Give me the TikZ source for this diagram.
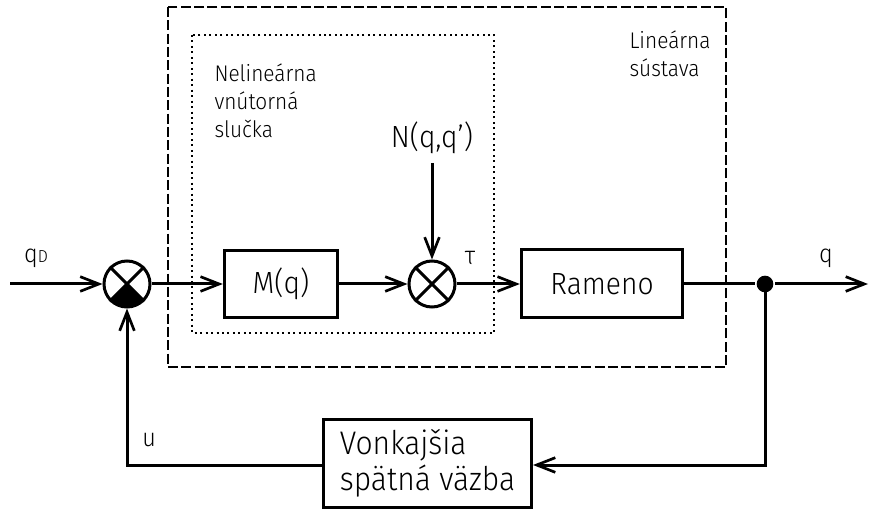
\documentclass[tikz,border=0pt]{standalone}
\usepackage{fontspec}
\setmainfont{Fira Sans}[UprightFont=* Light, FakeStretch=0.92]
\usetikzlibrary{arrows.meta}
\begin{document}
\begin{tikzpicture}[x=0.75pt,y=-0.75pt,
  line width=2.25pt,
  sig/.style={-{Straight Barb[length=14pt,width=11pt,line width=2pt]}},
  blk/.style={draw, line width=2.25pt, inner sep=0pt, font=\fontsize{23}{25}\selectfont},
  sumnode/.style={draw, circle, minimum size=34.5pt, inner sep=0pt, line width=2.25pt},
  lbl/.style={font=\fontsize{19}{22}\selectfont, inner sep=0pt},
  note/.style={font=\fontsize{17}{21}\selectfont, align=left, inner sep=0pt}
]
\useasboundingbox (0,0) rectangle (871,513);

% system boundaries
\draw[line width=1.6pt, dash pattern=on 7.5pt off 2.5pt] (168,7) rectangle (726,367);
\draw[line width=1.8pt, dash pattern=on 1.5pt off 2.6pt] (192,35) rectangle (494,333);

% summing junctions
\node[sumnode] (s1) at (127,284) {};
\node[sumnode] (s2) at (432,284) {};
\foreach \s in {s1,s2}{
  \draw (\s.45) -- (\s.225);
  \draw (\s.135) -- (\s.315);
}
\begin{scope}[x=1pt,y=1pt]
  \fill (s1.center) -- ++(225:17.25pt) arc[start angle=225,end angle=315,radius=17.25pt] -- cycle;
\end{scope}

% blocks
\node[blk, minimum width=85pt, minimum height=50pt] (m) at (281,284) {M(q)};
\node[blk, minimum width=121pt, minimum height=51pt] (r) at (602,284) {Rameno};
\node[blk, minimum width=156pt, minimum height=66pt, align=left,
      font=\fontsize{24.5}{27}\selectfont] (f) at (427.5,463.5) {Vonkajšia\\spätná väzba};

% disturbance input
\node[font=\fontsize{23}{25}\selectfont, inner sep=0pt] (n) at (432,138) {N(q,q’)};

% branch point and free ends
\node[circle, fill, inner sep=0pt, minimum size=12.5pt] (j) at (765,284) {};
\coordinate (in) at (10,284);
\coordinate (out) at (868,284);
\coordinate (nb) at (432,163);
\coordinate (fbr) at (765,465);
\coordinate (fbl) at (127,465);

% signal paths
\draw[sig] (in) -- (s1);
\draw[sig] (s1) -- (m);
\draw[sig] (m) -- (s2);
\draw[sig] (s2) -- (r);
\draw (r) -- (j);
\draw[sig] (j) -- (out);
\draw[sig] (nb) -- (s2);
\draw[sig] (j.center) -- (fbr) -- (f.east |- fbr);
\draw[sig] (f.west |- fbl) -- (fbl) -- (s1);

% signal labels
\node[lbl] (qd) at (36,258) {q{\fontsize{13}{13}\selectfont D}};
\node[lbl] (ql) at (826,258) {q};
\node[lbl] (tau) at (470,258) {τ};
\node[lbl] (ul) at (149,440) {u};

% region captions
\node[note, anchor=north west] (nl) at (213,62) {Nelineárna\\vnútorná\\slučka};
\node[note, anchor=north west] (ls) at (628,29) {Lineárna\\sústava};
\end{tikzpicture}
\end{document}
